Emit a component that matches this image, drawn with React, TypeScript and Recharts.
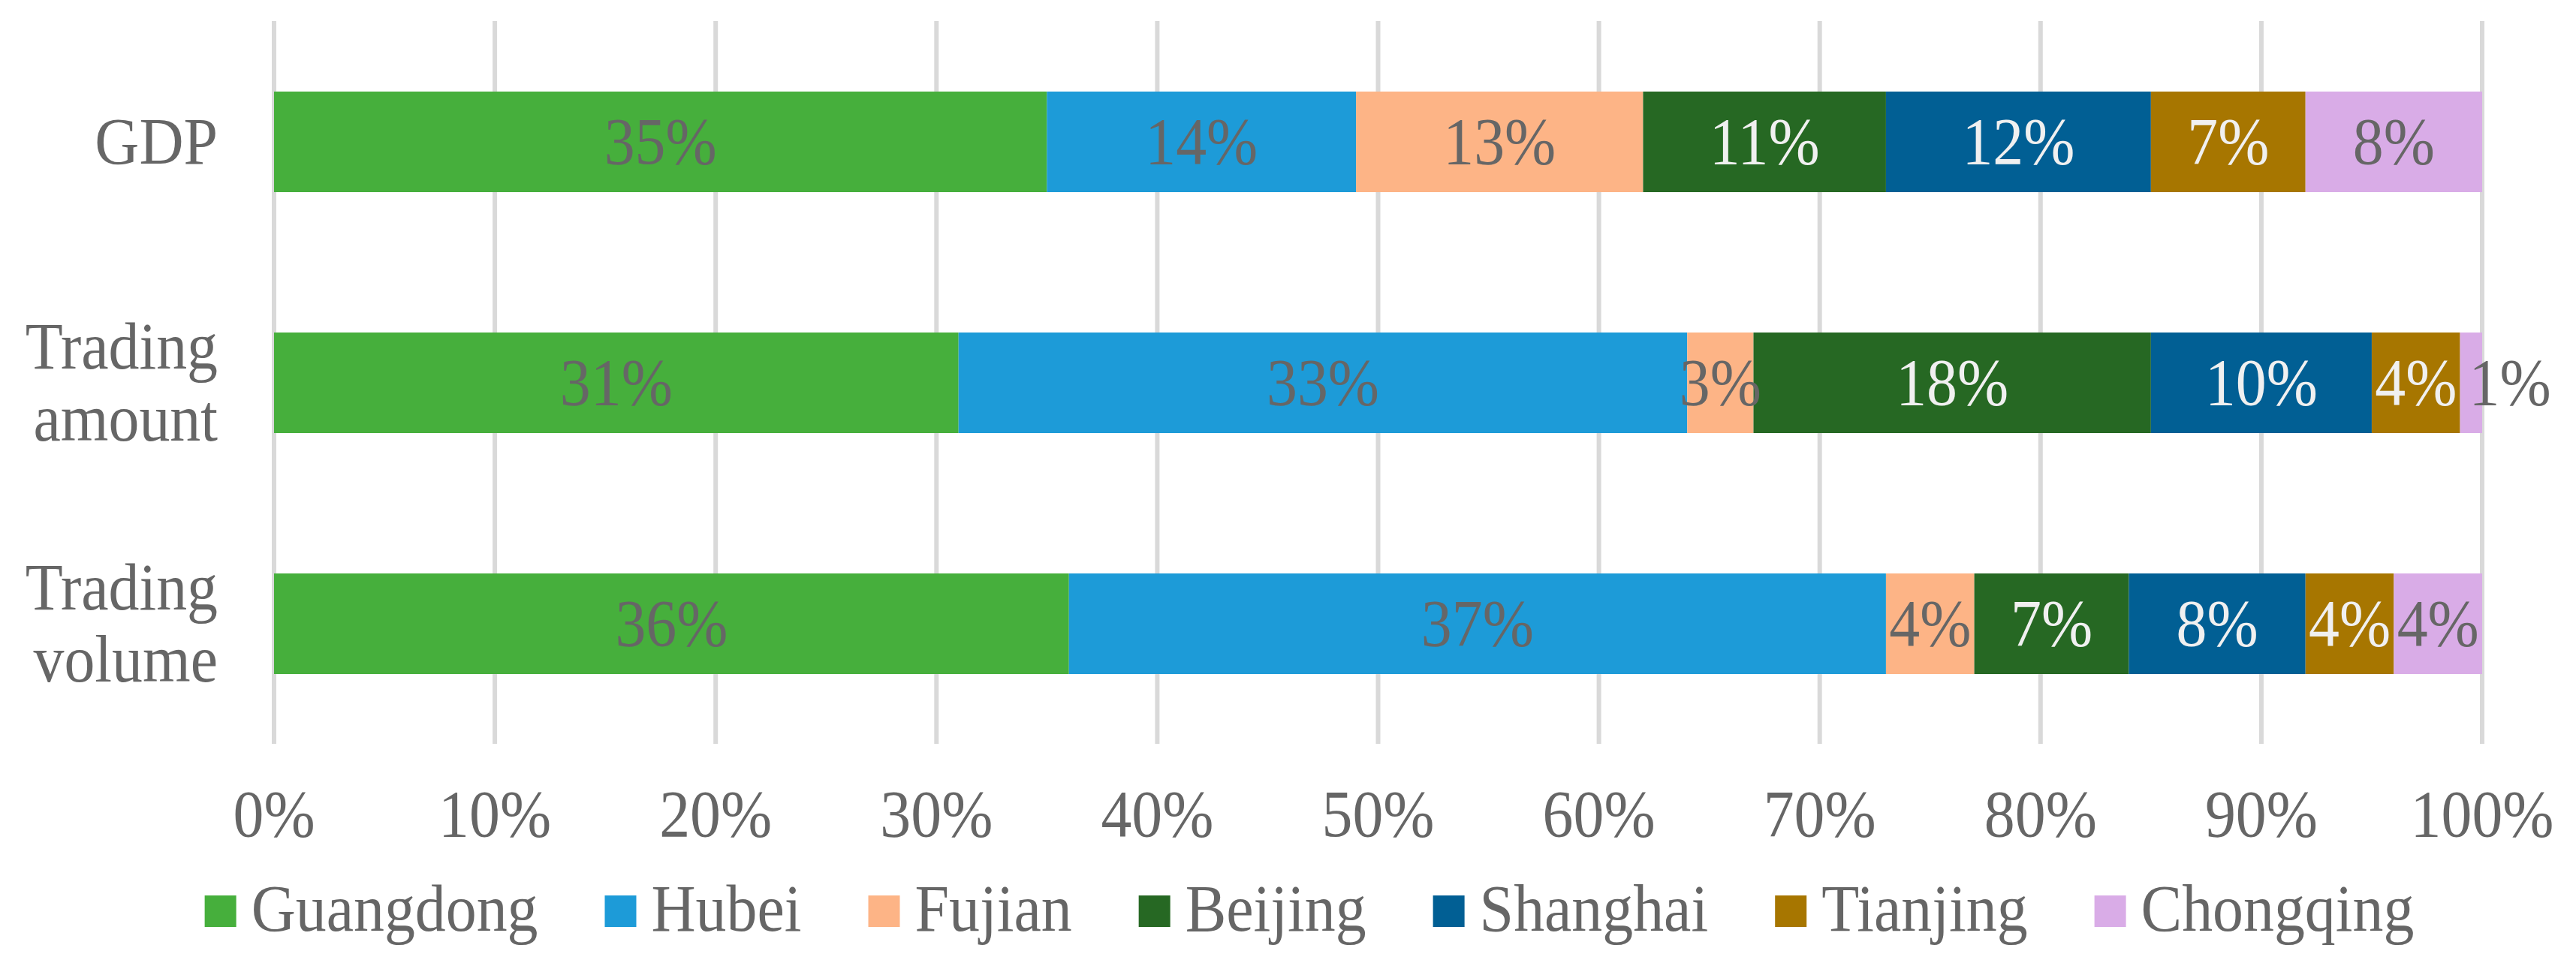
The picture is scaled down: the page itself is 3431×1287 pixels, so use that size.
import { BarChart, Bar, XAxis, YAxis, CartesianGrid, LabelList } from 'recharts';

const categories = ['GDP', 'Trading amount', 'Trading volume'];
const provinces = ['Guangdong', 'Hubei', 'Fujian', 'Beijing', 'Shanghai', 'Tianjing', 'Chongqing'];

const guangdong = [35, 31, 36];
const hubei = [14, 33, 37];
const fujian = [13, 3, 4];
const beijing = [11, 18, 7];
const shanghai = [12, 10, 8];
const tianjing = [7, 4, 4];
const chongqing = [8, 1, 4];

const xTicks = [0, 10, 20, 30, 40, 50, 60, 70, 80, 90, 100];

const colors = ['#46AF3C', '#1D9BD8', '#FDB486', '#266823', '#015F94', '#A77600', '#D9ACE7'];
const darkBars = ['Beijing', 'Shanghai', 'Tianjing'];

const series = [guangdong, hubei, fujian, beijing, shanghai, tianjing, chongqing];

const data = categories.map((name, i) => {
  const row: Record<string, string | number> = { name };
  provinces.forEach((p, j) => {
    row[p] = series[j][i];
  });
  return row;
});

const FONT = '"Liberation Serif", "Times New Roman", serif';
const GRAY = '#666666';
const FS = 88;
const SX = 0.93; // the original text is a bit narrow

// squeezed text, anchored at (x, y)
function SqText({ x, y, anchor = 'middle', fill = GRAY, children }: any) {
  return (
    <g transform={`translate(${x},${y}) scale(${SX},1)`}>
      <text x={0} y={0} textAnchor={anchor} fill={fill} fontSize={FS} fontFamily={FONT}>
        {children}
      </text>
    </g>
  );
}

function XTick({ x, y, payload }: any) {
  return <SqText x={x} y={y + 123}>{payload.value}%</SqText>;
}

function YTick({ x, y, payload }: any) {
  const lines = String(payload.value).split(' ');
  const first = y + 29 - (lines.length - 1) * 48;
  return (
    <g>
      {lines.map((l, i) => (
        <SqText key={i} x={x - 75} y={first + i * 96} anchor="end">
          {l}
        </SqText>
      ))}
    </g>
  );
}

function segLabel(light: boolean) {
  return (props: any) => {
    const { x, y, width, height, value } = props;
    const narrow = width < 40;
    return (
      <SqText
        x={narrow ? x + 12 : x + width / 2}
        y={y + height / 2 + 29}
        anchor={narrow ? 'start' : 'middle'}
        fill={light ? '#F0F0F0' : GRAY}
      >
        {value}%
      </SqText>
    );
  };
}

function measure(s: string) {
  const ctx = document.createElement('canvas').getContext('2d');
  if (!ctx) return s.length * FS * 0.5;
  ctx.font = `${FS}px ${FONT}`;
  return ctx.measureText(s).width * SX;
}

function Legend() {
  const box = 42;
  const pad = 20;
  const gap = 89;
  const widths = provinces.map(measure);
  const total = widths.reduce((a, w) => a + box + pad + w, 0) + gap * (provinces.length - 1);
  let cx = 1744 - total / 2;
  const items = provinces.map((p, j) => {
    const x0 = cx;
    cx += box + pad + widths[j] + gap;
    return (
      <g key={p}>
        <rect x={x0} y={1193} width={box} height={box} fill={colors[j]} />
        <SqText x={x0 + box + pad} y={1240} anchor="start">
          {p}
        </SqText>
      </g>
    );
  });
  return (
    <svg width={3431} height={1287} style={{ position: 'absolute', left: 0, top: 0, pointerEvents: 'none' }}>
      {items}
    </svg>
  );
}

export default function App() {
  return (
    <div style={{ position: 'absolute', left: 0, top: 0, width: 3431, height: 1287, background: '#fff' }}>
      <BarChart
        width={3431}
        height={1287}
        data={data}
        layout="vertical"
        margin={{ top: 28, right: 125, bottom: 146, left: 0 }}
      >
        <CartesianGrid horizontal={false} stroke="#D9D9D9" strokeWidth={6} />
        <XAxis
          type="number"
          domain={[0, 100]}
          ticks={xTicks}
          axisLine={false}
          tickLine={false}
          tickSize={0}
          tickMargin={0}
          height={150}
          tick={<XTick />}
          interval={0}
        />
        <YAxis
          type="category"
          dataKey="name"
          axisLine={false}
          tickLine={false}
          tickSize={0}
          tickMargin={0}
          width={365}
          tick={<YTick />}
          interval={0}
        />
        {provinces.map((p, j) => (
          <Bar key={p} dataKey={p} stackId="a" fill={colors[j]} barSize={134} isAnimationActive={false}>
            <LabelList dataKey={p} content={segLabel(darkBars.includes(p))} />
          </Bar>
        ))}
      </BarChart>
      <Legend />
    </div>
  );
}
